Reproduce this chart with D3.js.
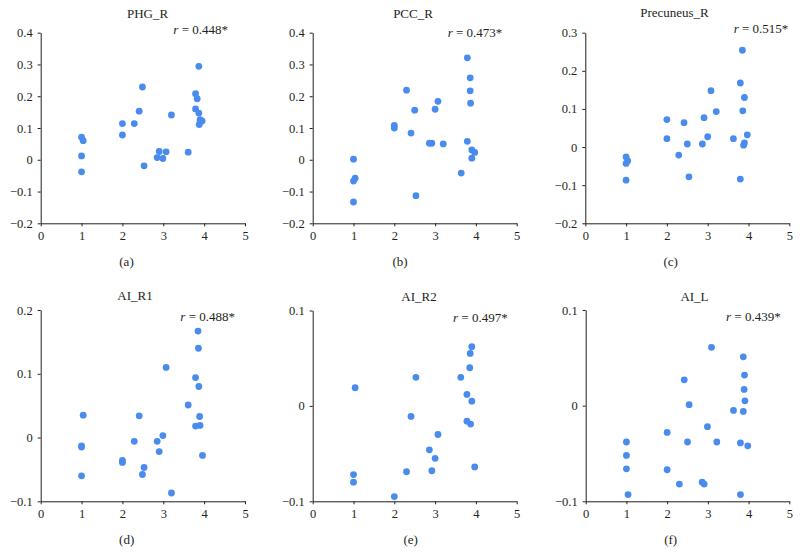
<!DOCTYPE html>
<html>
<head>
<meta charset="utf-8">
<script src="https://cdn.jsdelivr.net/npm/d3@7"></script>
<style>
  html, body { margin: 0; padding: 0; background: #fff; }
  svg { display: block; }
  text { font-family: "Liberation Serif", "Times New Roman", serif; fill: #231f20; }
</style>
</head>
<body>
<svg id="chart" width="800" height="555"></svg>
<script>
// ---- Data ----
const panelTitles = ["PHG_R", "PCC_R", "Precuneus_R", "AI_R1", "AI_R2", "AI_L"];
const panelLetters = ["(a)", "(b)", "(c)", "(d)", "(e)", "(f)"];
const rValues = ["0.448*", "0.473*", "0.515*", "0.488*", "0.497*", "0.439*"];
const xTickValues = [0, 1, 2, 3, 4, 5];
const yDomains = [[-0.2, 0.4], [-0.2, 0.4], [-0.2, 0.3], [-0.1, 0.2], [-0.1, 0.1], [-0.1, 0.1]];
const yTickValues = [
  [-0.2, -0.1, 0, 0.1, 0.2, 0.3, 0.4],
  [-0.2, -0.1, 0, 0.1, 0.2, 0.3, 0.4],
  [-0.2, -0.1, 0, 0.1, 0.2, 0.3],
  [-0.1, 0, 0.1, 0.2],
  [-0.1, 0, 0.1],
  [-0.1, 0, 0.1]
];

const xPHG = [1.0, 1.04, 1.0, 1.0, 2.0, 2.0, 2.29, 2.41, 2.49, 2.53, 2.85, 2.9, 2.99, 3.07, 3.2, 3.61, 3.79, 3.83, 3.79, 3.87, 3.87, 3.9, 3.88, 3.95];
const yPHG = [0.071, 0.060, 0.012, -0.038, 0.114, 0.078, 0.114, 0.153, 0.229, -0.019, 0.007, 0.026, 0.004, 0.025, 0.141, 0.024, 0.208, 0.192, 0.160, 0.294, 0.147, 0.126, 0.111, 0.122];

const xPCC = [1.0, 1.04, 1.0, 1.0, 2.0, 2.0, 2.3, 2.41, 2.5, 2.53, 2.86, 2.92, 3.0, 3.07, 3.2, 3.64, 3.79, 3.79, 3.86, 3.86, 3.87, 3.9, 3.9, 3.97];
const yPCC = [0.002, -0.058, -0.067, -0.133, 0.108, 0.100, 0.219, 0.084, 0.156, -0.113, 0.052, 0.052, 0.159, 0.184, 0.050, -0.042, 0.321, 0.058, 0.258, 0.217, 0.178, 0.031, 0.005, 0.023];

const xPrec = [1.0, 1.0, 1.04, 1.0, 2.0, 2.0, 2.29, 2.42, 2.5, 2.54, 2.87, 2.91, 3.0, 3.08, 3.21, 3.63, 3.8, 3.8, 3.85, 3.86, 3.9, 3.88, 3.9, 3.97];
const yPrec = [-0.026, -0.043, -0.036, -0.087, 0.072, 0.022, -0.021, 0.064, 0.008, -0.078, 0.008, 0.077, 0.027, 0.148, 0.093, 0.022, 0.168, -0.084, 0.254, 0.095, 0.130, 0.005, 0.011, 0.032];

const xAIR1 = [1.04, 1.0, 1.0, 1.0, 2.0, 2.0, 2.29, 2.41, 2.49, 2.53, 2.85, 2.9, 2.99, 3.07, 3.2, 3.61, 3.79, 3.79, 3.85, 3.86, 3.87, 3.89, 3.9, 3.96];
const yAIR1 = [0.035, -0.013, -0.015, -0.060, -0.036, -0.039, -0.006, 0.034, -0.058, -0.047, -0.006, -0.022, 0.003, 0.110, -0.087, 0.051, 0.094, 0.018, 0.167, 0.140, 0.080, 0.033, 0.019, -0.028];

const xAIR2 = [1.04, 1.0, 1.0, 2.0, 2.3, 2.41, 2.53, 2.86, 2.92, 3.0, 3.07, 3.63, 3.78, 3.78, 3.85, 3.86, 3.9, 3.9, 3.87, 3.97];
const yAIR2 = [0.019, -0.072, -0.080, -0.095, -0.069, -0.011, 0.030, -0.046, -0.068, -0.055, -0.030, 0.030, 0.012, -0.016, 0.040, 0.055, 0.062, 0.005, -0.019, -0.064];

const xAIL = [1.0, 1.0, 1.0, 1.04, 2.0, 2.0, 2.3, 2.42, 2.5, 2.54, 2.86, 2.91, 2.99, 3.09, 3.22, 3.63, 3.8, 3.8, 3.87, 3.87, 3.9, 3.89, 3.91, 3.98];
const yAIL = [-0.038, -0.052, -0.066, -0.093, -0.028, -0.067, -0.082, 0.027, -0.038, 0.001, -0.080, -0.082, -0.022, 0.061, -0.038, -0.005, -0.039, -0.093, 0.051, -0.006, 0.032, 0.017, 0.005, -0.042];

const seriesX = [xPHG, xPCC, xPrec, xAIR1, xAIR2, xAIL];
const seriesY = [yPHG, yPCC, yPrec, yAIR1, yAIR2, yAIL];

// ---- Layout (pixels) ----
const layout = [
  { l: 40.7,  r: 245,   t: 32.7,  b: 223.3, titleX: 147.5, titleY: 18.3, rX: 228,   rY: 33.5, capX: 126.5, capY: 266 },
  { l: 312.7, r: 516.7, t: 32.7,  b: 223.3, titleX: 413,   titleY: 18.3, rX: 502.3, rY: 37.3, capX: 400,   capY: 266 },
  { l: 585.3, r: 789.3, t: 32.7,  b: 223.3, titleX: 674.5, titleY: 16.7, rX: 788.3, rY: 33.3, capX: 670.7, capY: 266 },
  { l: 40.7,  r: 245,   t: 310,   b: 501.3, titleX: 135,   titleY: 300,  rX: 235,   rY: 320.7, capX: 126.7, capY: 544 },
  { l: 312.7, r: 516.7, t: 310.5, b: 501.3, titleX: 419,   titleY: 301,  rX: 507.7, rY: 321.7, capX: 410.7, capY: 544 },
  { l: 585.7, r: 789.3, t: 310,   b: 501.3, titleX: 694.5, titleY: 301,  rX: 780.7, rY: 320.7, capX: 670.7, capY: 544 }
];

const dotColor = "#4a8cee";
const axisColor = "#231f20";
const svg = d3.select("#chart");

const fmtY = v => {
  if (Math.abs(v) < 1e-9) return "0";
  const s = d3.format(".1f")(Math.abs(v));
  return (v < 0 ? "\u2212" : "") + s;
};

layout.forEach((L, i) => {
  const g = svg.append("g");
  const x = d3.scaleLinear().domain([0, 5]).range([L.l, L.r]);
  const y = d3.scaleLinear().domain(yDomains[i]).range([L.b, L.t]);

  // x axis
  const xAxis = d3.axisBottom(x).tickValues(xTickValues).tickSize(3).tickSizeOuter(0).tickPadding(5).tickFormat(d3.format("d"));
  const gx = g.append("g").attr("transform", `translate(0,${L.b})`).call(xAxis);
  // y axis
  const yAxis = d3.axisLeft(y).tickValues(yTickValues[i]).tickSize(3).tickSizeOuter(0).tickPadding(5).tickFormat(fmtY);
  const gy = g.append("g").attr("transform", `translate(${L.l},0)`).call(yAxis);

  [gx, gy].forEach(a => {
    a.select(".domain").attr("stroke", axisColor).attr("stroke-width", 1);
    a.selectAll(".tick line").attr("stroke", axisColor).attr("stroke-width", 1);
    a.selectAll(".tick text").attr("fill", axisColor)
      .style("font-family", '"Liberation Serif", serif').style("font-size", "12.5px");
  });

  // points
  const pts = seriesX[i].map((xv, k) => ({ x: xv, y: seriesY[i][k] }));
  g.append("g").selectAll("circle").data(pts).join("circle")
    .attr("cx", d => x(d.x))
    .attr("cy", d => y(d.y))
    .attr("r", 3.4)
    .attr("fill", dotColor);

  // title
  g.append("text").attr("x", L.titleX).attr("y", L.titleY)
    .attr("text-anchor", "middle").style("font-size", "13px").text(panelTitles[i]);

  // r label
  const t = g.append("text").attr("x", L.rX).attr("y", L.rY)
    .attr("text-anchor", "end").style("font-size", "13px");
  t.append("tspan").style("font-style", "italic").text("r");
  t.append("tspan").text(" = " + rValues[i]);

  // caption
  g.append("text").attr("x", L.capX).attr("y", L.capY)
    .attr("text-anchor", "middle").style("font-size", "13px").text(panelLetters[i]);
});
</script>
</body>
</html>
